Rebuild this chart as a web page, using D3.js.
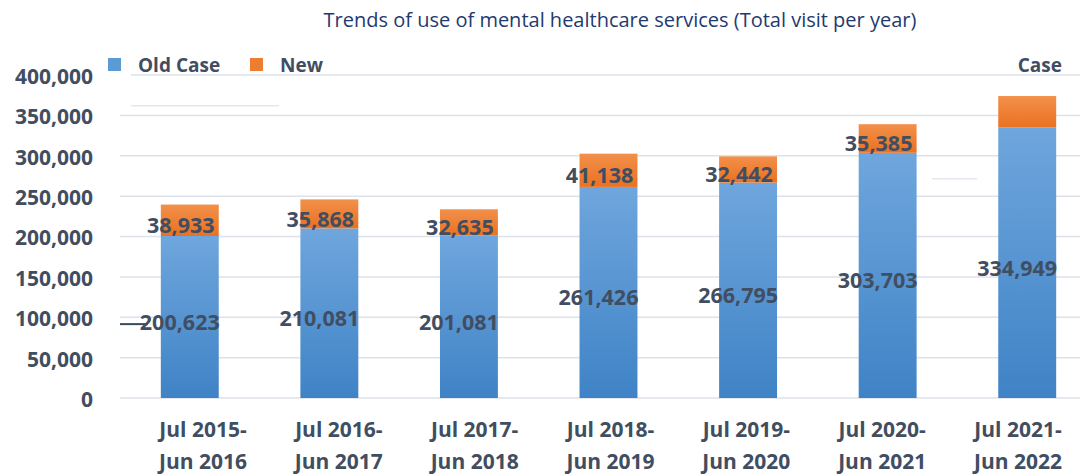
<!DOCTYPE html>
<html>
<head>
<meta charset="utf-8">
<script src="https://cdn.jsdelivr.net/npm/d3@7"></script>
<style>
  body { margin: 0; background: #fff; }
  svg { display: block; }
</style>
</head>
<body>
<div id="chart"></div>
<script>
// Trends of use of mental healthcare services, stacked bars

const periods = ["Jul 2015-|Jun 2016", "Jul 2016-|Jun 2017", "Jul 2017-|Jun 2018", "Jul 2018-|Jun 2019",
                 "Jul 2019-|Jun 2020", "Jul 2020-|Jun 2021", "Jul 2021-|Jun 2022"];
const oldCase = [200623, 210081, 201081, 261426, 266795, 303703, 334949];
const newCase = [38933, 35868, 32635, 41138, 32442, 35385, 39000];
const newLabelShown = [true, true, true, true, true, true, false];
const yTicks = [0, 50000, 100000, 150000, 200000, 250000, 300000, 350000, 400000];

const width = 1086, height = 474;
const textColor = "#414e61";

const svg = d3.select("#chart")
    .append("svg")
    .attr("width", width)
    .attr("height", height);

// gradients for the bars
const defs = svg.append("defs");
const gBlue = defs.append("linearGradient").attr("id", "gBlue").attr("x1", 0).attr("y1", 0).attr("x2", 0).attr("y2", 1);
gBlue.append("stop").attr("offset", "0%").attr("stop-color", "#6fa6dd");
gBlue.append("stop").attr("offset", "100%").attr("stop-color", "#3f83c6");
const gOrange = defs.append("linearGradient").attr("id", "gOrange").attr("x1", 0).attr("y1", 0).attr("x2", 0).attr("y2", 1);
gOrange.append("stop").attr("offset", "0%").attr("stop-color", "#f2904a");
gOrange.append("stop").attr("offset", "100%").attr("stop-color", "#ea7122");

const x = d3.scaleBand()
    .domain(periods)
    .range([120, 1097])
    .paddingInner(0.585)
    .paddingOuter(0.2925);

// category labels sit on their own, slightly tighter spacing
const xLabel = d3.scalePoint()
    .domain(periods)
    .range([203, 1018]);

const y = d3.scaleLinear()
    .domain([0, 400000])
    .range([398, 75]);

// title
svg.append("text")
    .attr("x", 620)
    .attr("y", 27)
    .attr("text-anchor", "middle")
    .attr("font-family", "Open Sans")
    .attr("font-size", 20)
    .attr("fill", "#1f3a6e")
    .text("Trends of use of mental healthcare services (Total visit per year)");

// gridlines
svg.append("g")
    .selectAll("line")
    .data(yTicks)
    .join("line")
    .attr("x1", d => d === 400000 ? 131 : 120)
    .attr("x2", 1080)
    .attr("y1", d => y(d))
    .attr("y2", d => y(d))
    .attr("stroke", "#dde2ea")
    .attr("stroke-width", 1.5);

// y axis
const yAxis = d3.axisLeft(y)
    .tickValues(yTicks)
    .tickSize(0)
    .tickPadding(0)
    .tickFormat(d3.format(","));

svg.append("g")
    .attr("transform", "translate(93,0)")
    .call(yAxis)
    .call(g => g.select(".domain").remove())
    .call(g => g.selectAll("text")
        .attr("font-family", "Open Sans")
        .attr("font-weight", "bold")
        .attr("font-size", 21)
        .attr("fill", textColor)
        .attr("dy", "0.4em"));

// stray line artefacts from the original picture
svg.append("line").attr("x1", 131).attr("x2", 279).attr("y1", y(362000)).attr("y2", y(362000))
    .attr("stroke", "#e3e7ee").attr("stroke-width", 1.5);
svg.append("line").attr("x1", 932).attr("x2", 977).attr("y1", y(271500)).attr("y2", y(271500))
    .attr("stroke", "#e3e7ee").attr("stroke-width", 1.5);

// bars
const bars = svg.append("g");
bars.selectAll("rect.old")
    .data(periods)
    .join("rect")
    .attr("class", "old")
    .attr("x", d => x(d))
    .attr("width", x.bandwidth())
    .attr("y", (d, i) => y(oldCase[i]))
    .attr("height", (d, i) => y(0) - y(oldCase[i]))
    .attr("fill", "url(#gBlue)");

bars.selectAll("rect.new")
    .data(periods)
    .join("rect")
    .attr("class", "new")
    .attr("x", d => x(d))
    .attr("width", x.bandwidth())
    .attr("y", (d, i) => y(oldCase[i] + newCase[i]))
    .attr("height", (d, i) => y(oldCase[i]) - y(oldCase[i] + newCase[i]))
    .attr("fill", "url(#gOrange)");

svg.append("line").attr("x1", 120).attr("x2", 148).attr("y1", y(91500)).attr("y2", y(91500))
    .attr("stroke", "#3d4a5c").attr("stroke-width", 2);

// value labels
const fmt = d3.format(",");
svg.append("g")
    .selectAll("text")
    .data(periods)
    .join("text")
    .attr("x", d => x(d) + x.bandwidth() / 2 - 10)
    .attr("y", (d, i) => (y(oldCase[i]) + y(0)) / 2 + 5)
    .attr("dy", "0.36em")
    .attr("text-anchor", "middle")
    .attr("font-family", "Open Sans")
    .attr("font-weight", "bold")
    .attr("font-size", 21.5)
    .attr("fill", textColor)
    .text((d, i) => fmt(oldCase[i]));

svg.append("g")
    .selectAll("text")
    .data(periods.filter((d, i) => newLabelShown[i]))
    .join("text")
    .attr("x", d => x(d) + x.bandwidth() / 2 - 9)
    .attr("y", d => {
        const i = periods.indexOf(d);
        return (y(oldCase[i]) + y(oldCase[i] + newCase[i])) / 2 + 5;
    })
    .attr("dy", "0.36em")
    .attr("text-anchor", "middle")
    .attr("font-family", "Open Sans")
    .attr("font-weight", "bold")
    .attr("font-size", 21.5)
    .attr("fill", textColor)
    .text(d => fmt(newCase[periods.indexOf(d)]));

// x axis labels, two lines each
const xl = svg.append("g")
    .selectAll("text")
    .data(periods)
    .join("text")
    .attr("x", d => xLabel(d))
    .attr("y", 437)
    .attr("text-anchor", "middle")
    .attr("font-family", "Open Sans")
    .attr("font-weight", "bold")
    .attr("font-size", 21)
    .attr("fill", textColor);
xl.selectAll("tspan")
    .data(d => d.split("|").map(s => ({ s, x: xLabel(d) })))
    .join("tspan")
    .attr("x", d => d.x)
    .attr("dy", (d, i) => i === 0 ? 0 : 32)
    .text(d => d.s);

// legend
const legend = svg.append("g").attr("font-family", "Open Sans").attr("font-weight", "bold")
    .attr("font-size", 19).attr("fill", textColor);
legend.append("rect").attr("x", 108).attr("y", 58).attr("width", 13).attr("height", 13).attr("fill", "#5b9bd5");
legend.append("text").attr("x", 138).attr("y", 72).text("Old Case");
legend.append("rect").attr("x", 250).attr("y", 58).attr("width", 13).attr("height", 13).attr("fill", "#ed7d31");
legend.append("text").attr("x", 280).attr("y", 72).text("New");
legend.append("text").attr("x", 1062).attr("y", 72).attr("text-anchor", "end").text("Case");
</script>
</body>
</html>
